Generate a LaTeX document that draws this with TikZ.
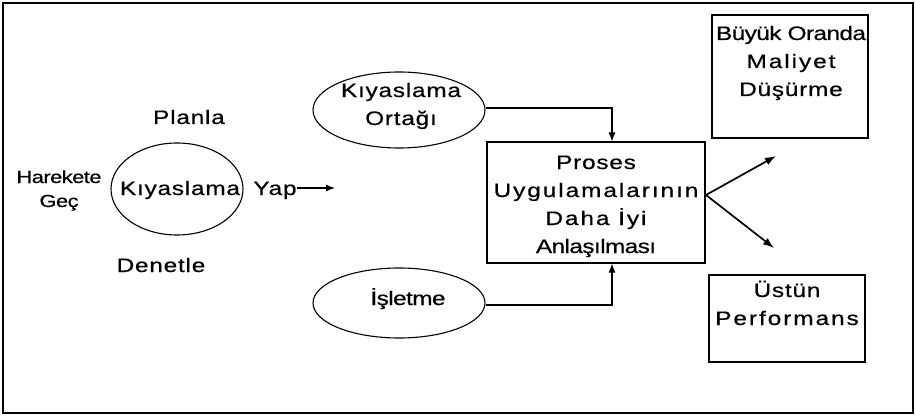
\documentclass[tikz,border=0pt]{standalone}
\usepackage{fontspec}
\setmainfont{Liberation Sans}[FakeStretch=1.25,LetterSpace=4,FakeBold=0.6]
\newfontfamily\widefont{Liberation Sans}[FakeStretch=1.25,LetterSpace=10,FakeBold=0.6]
\newfontfamily\tightfont{Liberation Sans}[FakeStretch=1.25,LetterSpace=-3,FakeBold=0.6]
\usetikzlibrary{shapes.geometric,arrows.meta}
\tikzset{
  txt/.style={inner sep=0pt, anchor=base, align=center, font=\fontsize{19.5}{28}\selectfont},
  small/.style={inner sep=0pt, anchor=base, align=center, font=\fontsize{17.5}{24}\selectfont\tightfont},
  oval/.style={draw, ellipse, line width=1.1pt, inner sep=0pt},
  box/.style={draw, line width=1.1pt, inner sep=0pt},
  flow/.style={line width=1.1pt, -{Latex[length=9pt,width=7pt]}},
  outflow/.style={line width=1.7pt, -{Latex[length=11pt,width=8pt]}},
}
\begin{document}
\begin{tikzpicture}[x=1pt,y=-1pt]
\useasboundingbox (0,0) rectangle (916,417);
\draw[line width=1.4pt] (3,3) rectangle (913,413);

% benchmarking cycle
\node[oval, minimum width=132, minimum height=92] (cycle) at (177,189) {};
\node[txt] (cyclet) at (180,195) {Kıyaslama};
\node[txt] (yap) at (275,195) {Yap};
\node[txt] (planla) at (189,124) {Planla};
\node[txt] (denetle) at (161,272) {Denetle};
\node[small] (harekete) at (59,183) {Harekete};
\node[small] (gec) at (59,207) {Geç};
\coordinate (yapend) at (335,188);
\draw[flow] (yap.east |- 0,188) -- (yapend);

% inputs (multi-line nodes are placed by the baseline of their last line)
\node[oval, minimum width=172, minimum height=76] (ortak) at (399,110) {};
\node[txt] (ortakt) at (401,125) {Kıyaslama\\Ortağı};
\node[oval, minimum width=172, minimum height=70] (isletme) at (399,303) {};
\node[txt] (isletmet) at (408,305) {\tightfont İşletme};

% central process box
\node[box, minimum width=218, minimum height=121] (proses) at (596,202.5) {};
\node[txt] (prosest) at (596,253) {Proses\\\widefont Uygulamalarının\\\widefont Daha İyi\\\tightfont Anlaşılması};

\draw[flow] (ortak.east |- 0,108) -| ([xshift=16pt]proses.north);
\draw[flow] (isletme.east |- 0,305) -| ([xshift=16pt]proses.south);

% outcomes
\node[box, minimum width=156, minimum height=123] (maliyet) at (790,76.5) {};
\node[txt] (maliyett) at (791,96) {\tightfont Büyük Oranda\\\widefont Maliyet\\Düşürme};
\node[box, minimum width=156, minimum height=87] (perf) at (787,318.5) {};
\node[txt] (perft) at (787,325) {Üstün\\\widefont Performans};

\coordinate (split) at (706,195);
\coordinate (upend) at (776,156);
\coordinate (downend) at (774,248);
\draw[outflow] (split) -- (upend);
\draw[outflow] (split) -- (downend);
\end{tikzpicture}
\end{document}
